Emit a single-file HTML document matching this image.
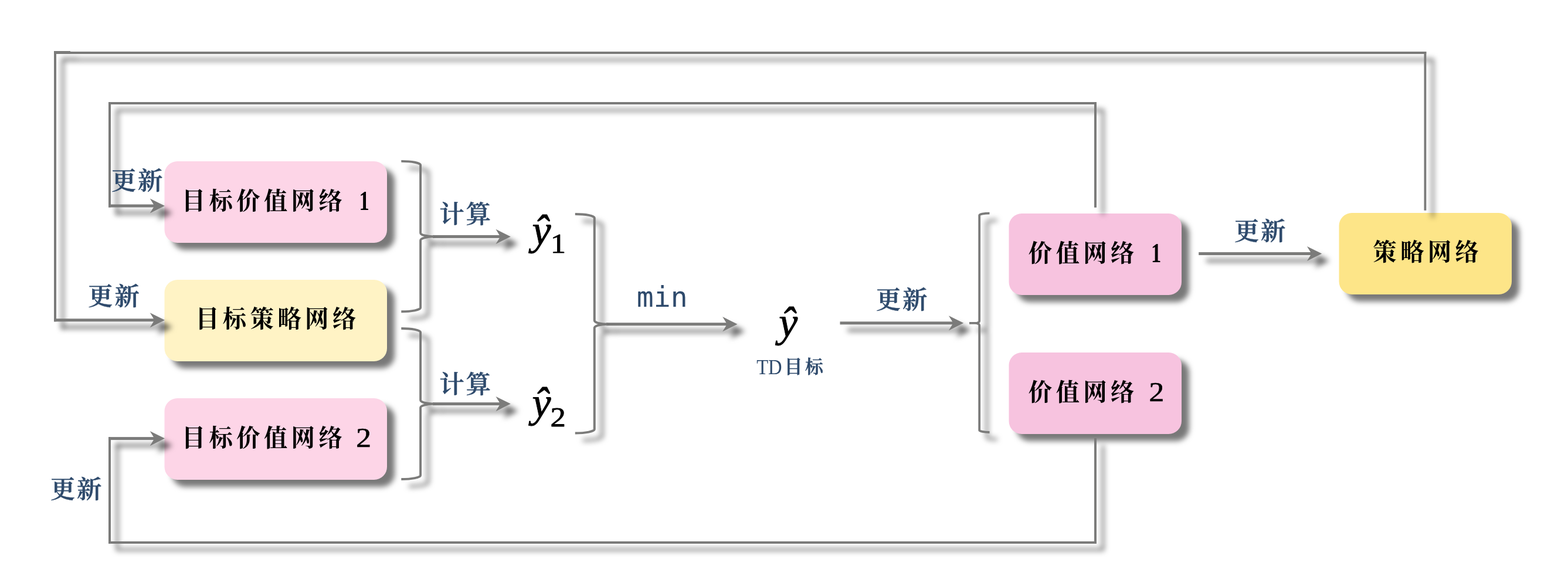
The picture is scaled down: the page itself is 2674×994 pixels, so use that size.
<!DOCTYPE html>
<html lang="zh-CN">
<head>
<meta charset="utf-8">
<title>TD3 网络更新流程图</title>
<style>
html, body { margin: 0; padding: 0; background: #ffffff; }
body { width: 2674px; height: 994px; overflow: hidden; position: relative; }
svg { position: absolute; left: 0; top: 0; display: block; }
text { font-family: "Liberation Serif", "Noto Serif CJK SC", serif; white-space: pre; }
.box { font-size: 40.5px; font-weight: 700; letter-spacing: 6.2px; fill: #000; }
.num { font-size: 46px; font-weight: 400; letter-spacing: 0; }
.one { font-weight: 700; }
.two { stroke: #000; stroke-width: 0.6px; }
.lab { font-size: 42.5px; font-weight: 600; letter-spacing: 2.8px; fill: #2e4a6c; stroke: #2e4a6c; stroke-width: 0.5px; stroke-linejoin: round; paint-order: stroke fill; }
.mono { font-family: "DejaVu Sans Mono", "Liberation Mono", monospace; font-size: 48px; fill: #2e4a6c; }
.hat { font-size: 72px; font-style: italic; fill: #000; stroke: #000; stroke-width: 0.9px; stroke-linejoin: round; paint-order: stroke fill; }
.sub { font-size: 47px; font-style: normal; stroke-width: 0.8px; }
.td { font-size: 35.5px; fill: #2e4a6c; }
.tdc { font-size: 31px; font-weight: 600; letter-spacing: 4.5px; stroke: #2e4a6c; stroke-width: 0.5px; stroke-linejoin: round; paint-order: stroke fill; }
</style>
</head>
<body>
<svg width="2674" height="994" viewBox="0 0 2674 994" role="img" aria-label="TD3 网络更新流程图">
<defs>
<filter id="shb" filterUnits="userSpaceOnUse" x="0" y="0" width="2674" height="994" color-interpolation-filters="sRGB">
<feGaussianBlur in="SourceAlpha" stdDeviation="4.8" result="b"/>
<feOffset in="b" dx="12.6" dy="11.5" result="o"/>
<feFlood flood-color="#000000" flood-opacity="0.53"/>
<feComposite in2="o" operator="in" result="s"/>
<feMerge><feMergeNode in="s"/><feMergeNode in="SourceGraphic"/></feMerge>
</filter>
<filter id="shl" filterUnits="userSpaceOnUse" x="0" y="0" width="2674" height="994" color-interpolation-filters="sRGB">
<feGaussianBlur in="SourceAlpha" stdDeviation="4.8" result="b"/>
<feOffset in="b" dx="12.6" dy="11.5" result="o"/>
<feFlood flood-color="#000000" flood-opacity="0.6"/>
<feComposite in2="o" operator="in" result="s"/>
<feMerge><feMergeNode in="s"/><feMergeNode in="SourceGraphic"/></feMerge>
</filter>
</defs>
<rect x="0" y="0" width="2674" height="994" fill="#ffffff"/>

<g id="boxes" filter="url(#shb)">
<rect x="280.50" y="275.00" width="379.50" height="139.00" rx="22" ry="22" fill="#fdd5e7"/>
<rect x="280.50" y="477.00" width="379.50" height="139.00" rx="22" ry="22" fill="#fff3c5"/>
<rect x="280.50" y="679.00" width="379.50" height="139.00" rx="22" ry="22" fill="#fdd5e7"/>
<rect x="1720.50" y="364.00" width="294.50" height="139.00" rx="22" ry="22" fill="#f7c3df"/>
<rect x="1720.50" y="601.00" width="294.50" height="139.00" rx="22" ry="22" fill="#f7c3df"/>
<rect x="2283.50" y="363.00" width="294.50" height="139.00" rx="22" ry="22" fill="#fde588"/>
</g>
<g id="loops" filter="url(#shl)">
<rect x="2428.50" y="88.00" width="3.80" height="270.80" fill="#7b7b7a"/>
<rect x="92.00" y="88.00" width="2340.30" height="4.00" fill="#7b7b7a"/>
<rect x="92.00" y="87.00" width="4.00" height="461.30" fill="#7b7b7a"/>
<rect x="92.00" y="87.00" width="28.00" height="4.80" fill="#7b7b7a"/>
<rect x="1866.00" y="174.00" width="4.00" height="179.80" fill="#7b7b7a"/>
<rect x="185.00" y="174.00" width="1685.00" height="4.00" fill="#7b7b7a"/>
<rect x="185.00" y="174.00" width="4.00" height="179.50" fill="#7b7b7a"/>
<rect x="1866.00" y="747.00" width="4.00" height="180.00" fill="#7b7b7a"/>
<rect x="185.00" y="923.00" width="1685.00" height="4.00" fill="#7b7b7a"/>
<rect x="185.00" y="745.20" width="4.00" height="181.80" fill="#7b7b7a"/>
</g>
<g id="arrows" filter="url(#shl)">
<rect x="185.00" y="348.50" width="83.00" height="5.00" fill="#7b7b7a"/><path d="M281.00 351.00 L255.70 338.40 L263.40 351.00 L255.70 363.60 Z" fill="#7b7b7a"/>
<rect x="92.00" y="543.30" width="176.00" height="5.00" fill="#7b7b7a"/><path d="M281.00 545.80 L255.70 533.20 L263.40 545.80 L255.70 558.40 Z" fill="#7b7b7a"/>
<rect x="185.00" y="745.10" width="83.00" height="5.00" fill="#7b7b7a"/><path d="M281.00 747.60 L255.70 735.00 L263.40 747.60 L255.70 760.20 Z" fill="#7b7b7a"/>
<rect x="738.00" y="400.90" width="119.80" height="5.00" fill="#7b7b7a"/><path d="M870.80 403.40 L845.50 390.80 L853.20 403.40 L845.50 416.00 Z" fill="#7b7b7a"/>
<rect x="738.00" y="686.10" width="119.80" height="5.00" fill="#7b7b7a"/><path d="M870.80 688.60 L845.50 676.00 L853.20 688.60 L845.50 701.20 Z" fill="#7b7b7a"/>
<rect x="1034.00" y="550.20" width="210.50" height="5.00" fill="#7b7b7a"/><path d="M1257.50 552.70 L1232.20 540.10 L1239.90 552.70 L1232.20 565.30 Z" fill="#7b7b7a"/>
<rect x="1432.50" y="548.30" width="197.70" height="5.00" fill="#7b7b7a"/><path d="M1643.20 550.80 L1617.90 538.20 L1625.60 550.80 L1617.90 563.40 Z" fill="#7b7b7a"/>
<rect x="2044.20" y="430.00" width="197.00" height="5.00" fill="#7b7b7a"/><path d="M2254.20 432.50 L2228.90 419.90 L2236.60 432.50 L2228.90 445.10 Z" fill="#7b7b7a"/>
</g>
<g id="braces" filter="url(#shl)">
<path d="M684.30 274.85 A32.80 6.50 0 0 1 717.10 281.35 L717.10 396.90 A22.90 6.50 0 0 0 740.00 403.40 A22.90 6.50 0 0 0 717.10 409.90 L717.10 524.70 A32.80 6.50 0 0 1 684.30 531.20" fill="none" stroke="#7b7b7a" stroke-width="3.9" stroke-linejoin="bevel"/>
<path d="M684.30 560.00 A32.80 6.50 0 0 1 717.10 566.50 L717.10 682.10 A22.90 6.50 0 0 0 740.00 688.60 A22.90 6.50 0 0 0 717.10 695.10 L717.10 810.50 A32.80 6.50 0 0 1 684.30 817.00" fill="none" stroke="#7b7b7a" stroke-width="3.9" stroke-linejoin="bevel"/>
<path d="M980.80 365.00 A32.95 6.50 0 0 1 1013.75 371.50 L1013.75 546.20 A22.25 6.50 0 0 0 1036.00 552.70 A22.25 6.50 0 0 0 1013.75 559.20 L1013.75 732.00 A32.95 6.50 0 0 1 980.80 738.50" fill="none" stroke="#7b7b7a" stroke-width="4.0" stroke-linejoin="bevel"/>
<path d="M1687.50 363.60 A17.30 3.50 0 0 0 1670.20 367.10 L1670.20 547.40 A7.20 3.50 0 0 1 1663.00 550.90 L1653.00 550.90 L1663.00 550.90 A7.20 3.50 0 0 1 1670.20 554.40 L1670.20 733.50 A17.30 3.50 0 0 0 1687.50 737.00" fill="none" stroke="#7b7b7a" stroke-width="3.8" stroke-linejoin="bevel"/>
</g>
<g id="labels" opacity="0.999">
<text class="box" x="309.75" y="356.65">目标价值网络 <tspan class="num one" x="612.6" y="358" textLength="17.25" lengthAdjust="spacingAndGlyphs">1</tspan></text>
<text class="box" x="333.15" y="558.25">目标策略网络</text>
<text class="box" x="309.75" y="760.6">目标价值网络 <tspan class="num two" x="607.2" y="761.6" textLength="25.76" lengthAdjust="spacingAndGlyphs">2</tspan></text>
<text class="box" x="1753.75" y="445.6">价值网络 <tspan class="num one" x="1963" y="447" textLength="17.25" lengthAdjust="spacingAndGlyphs">1</tspan></text>
<text class="box" x="1753.75" y="682.75">价值网络 <tspan class="num two" x="1959.4" y="684.1" textLength="25.76" lengthAdjust="spacingAndGlyphs">2</tspan></text>
<text class="box" x="2341.25" y="443.79">策略网络</text>
<text class="lab" x="189.68" y="323.02">更新</text>
<text class="lab" x="150.08" y="520.25">更新</text>
<text class="lab" x="85.67" y="849.42">更新</text>
<text class="lab" x="1493.67" y="525.75">更新</text>
<text class="lab" x="2104.75" y="409.22">更新</text>
<text class="lab" x="749.17" y="379.92">计算</text>
<text class="lab" x="749.17" y="669.92">计算</text>
<text class="mono" x="1085.83" y="523.42">min</text>
<text class="hat" x="907.5" y="417.17">ŷ<tspan class="sub" x="938.83" y="431" textLength="26.32" lengthAdjust="spacingAndGlyphs">1</tspan></text>
<text class="hat" x="907.42" y="711.25">ŷ<tspan class="sub" x="938.42" y="726.5" textLength="26.32" lengthAdjust="spacingAndGlyphs">2</tspan></text>
<text class="hat" x="1328.35" y="574">ŷ</text>
<text class="td" x="1290.2" y="637.8"><tspan textLength="43.5" lengthAdjust="spacingAndGlyphs">TD</tspan><tspan class="tdc" x="1337.5" y="636.08">目标</tspan></text>
</g>
</svg>
</body>
</html>
